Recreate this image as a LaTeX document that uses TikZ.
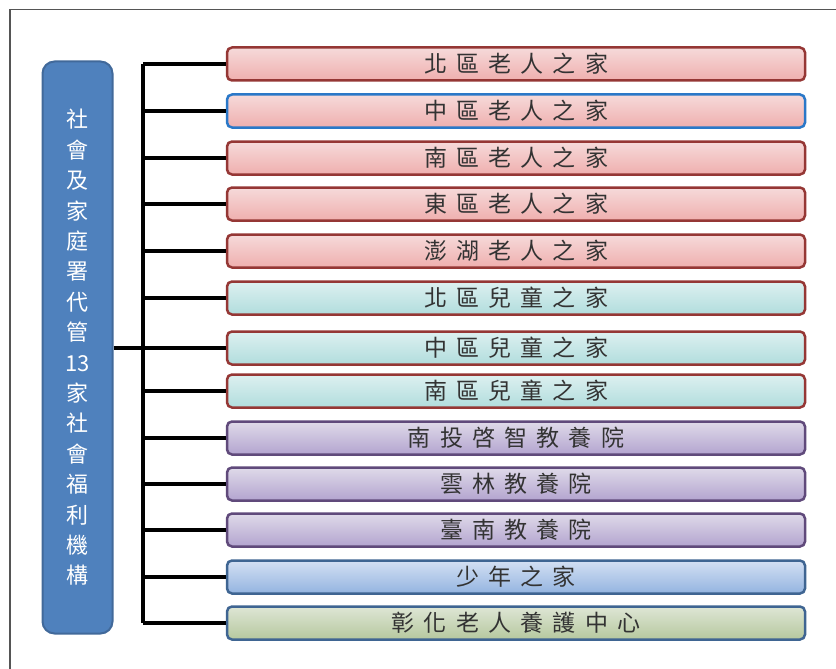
\documentclass[tikz,border=0pt]{standalone}
\usepackage{fontspec}
\newfontfamily\cjk[LetterSpace=40]{Noto Sans CJK TC}
\newfontfamily\cjkv{Noto Sans CJK TC}
\definecolor{txt}{HTML}{333333}
\definecolor{redb}{HTML}{953735}
\definecolor{redt}{HTML}{F6DADA}
\definecolor{redbot}{HTML}{EFAFAE}
\definecolor{blueb}{HTML}{2A78C8}
\definecolor{tealt}{HTML}{DDF0F0}
\definecolor{tealbot}{HTML}{B1DDDD}
\definecolor{purb}{HTML}{604A7B}
\definecolor{purt}{HTML}{DFDAE9}
\definecolor{purbot}{HTML}{B3A4CF}
\definecolor{lbb}{HTML}{3F6592}
\definecolor{lbt}{HTML}{D4E0F3}
\definecolor{lbbot}{HTML}{93B4E0}
\definecolor{grt}{HTML}{DEE6D5}
\definecolor{grbot}{HTML}{B6C89E}
\definecolor{mainf}{HTML}{4F81BD}
\definecolor{mainb}{HTML}{41699A}
\definecolor{framec}{HTML}{555555}
\tikzset{
  box/.style={draw, line width=2.5pt, rounded corners=5pt, minimum width=578pt, minimum height=33pt, inner sep=0pt, text=txt, font=\cjk\fontsize{23}{23}\selectfont},
  redbox/.style={box, draw=redb, top color=redt, bottom color=redbot},
  redbluebox/.style={box, draw=blueb, top color=redt, bottom color=redbot},
  tealbox/.style={box, draw=redb, top color=tealt, bottom color=tealbot},
  purbox/.style={box, draw=purb, top color=purt, bottom color=purbot},
  lbbox/.style={box, draw=lbb, top color=lbt, bottom color=lbbot},
  grbox/.style={box, draw=lbb, top color=grt, bottom color=grbot},
  conn/.style={line width=3.5pt, black},
}
\begin{document}
\begin{tikzpicture}[x=1pt,y=-1pt]
\useasboundingbox (0,0) rectangle (836,669);
\draw[framec, line width=1.2pt] (10,669) -- (10,9.5) -- (836,9.5);
\node[draw=mainb, fill=mainf, line width=2pt, rounded corners=12pt, minimum width=70pt, minimum height=572pt, inner sep=0pt,
  text=white, align=center, font=\cjkv\fontsize{22}{30.4}\selectfont] (main) at (77.5,347.5)
  {\raisebox{-3pt}{\parbox{30pt}{\centering 社\\會\\及\\家\\庭\\署\\代\\管\\13\\家\\社\\會\\福\\利\\機\\構}}};
\node[redbox] (b1) at (516,64) {北區老人之家};
\node[redbluebox] (b2) at (516,111) {中區老人之家};
\node[redbox] (b3) at (516,158) {南區老人之家};
\node[redbox] (b4) at (516,204) {東區老人之家};
\node[redbox] (b5) at (516,251) {澎湖老人之家};
\node[tealbox] (b6) at (516,298) {北區兒童之家};
\node[tealbox] (b7) at (516,348) {中區兒童之家};
\node[tealbox] (b8) at (516,391) {南區兒童之家};
\node[purbox] (b9) at (516,438) {南投啓智教養院};
\node[purbox] (b10) at (516,484) {雲林教養院};
\node[purbox] (b11) at (516,530) {臺南教養院};
\node[lbbox] (b12) at (516,577) {少年之家};
\node[grbox] (b13) at (516,623) {彰化老人養護中心};
\coordinate (bus) at (143,0);
\draw[conn] (b1.west -| bus) -- (b13.west -| bus);
\foreach \i in {1,...,13} {\draw[conn] (b\i.west -| bus) -- (b\i.west);}
\draw[conn] (main.east |- b7.west) -- (b7.west -| bus);
\end{tikzpicture}
\end{document}
